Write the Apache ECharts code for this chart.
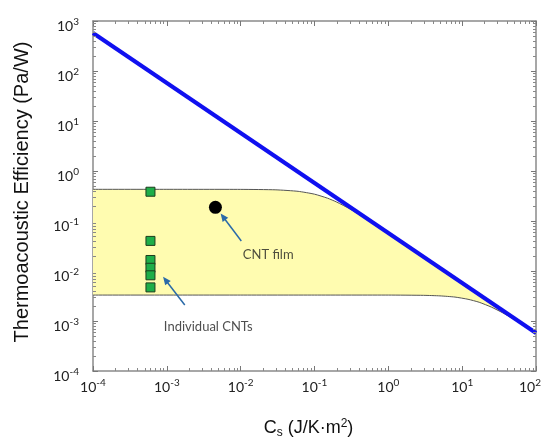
<!DOCTYPE html>
<html><head><meta charset="utf-8">
<script src="https://cdn.jsdelivr.net/npm/echarts@6/dist/echarts.min.js"></script>
<style>html,body{margin:0;padding:0;background:#fff}#c{width:544px;height:439px}</style>
</head><body><div id="c"></div>
<script>
// ---- data ----
const limitX = [1e-4, 100];
const limitY = [575, 5.75e-4];
const upperX = [1e-4, 1e-3, 1e-2, 0.03, 0.06, 0.1, 0.15, 0.2, 0.3, 0.5, 0.7, 1, 2, 5, 10, 20, 50, 100];
const upperY = [0.43, 0.43, 0.429, 0.42, 0.392, 0.344, 0.286, 0.239, 0.175, 0.111, 0.081, 0.057, 0.0287, 0.0115, 0.00575, 0.00287, 0.00115, 0.000575];
const lowerX = [1e-4, 1e-3, 1e-2, 0.1, 1, 3, 5, 8, 12, 17, 25, 35, 50, 70, 100];
const lowerY = [0.0033, 0.0033, 0.0033, 0.0033, 0.0033, 0.00326, 0.00318, 0.00301, 0.00272, 0.00237, 0.00189, 0.00147, 0.00109, 0.0008, 0.000566];
const cntX = [6e-4, 6e-4, 6e-4, 6e-4, 6e-4, 6e-4];
const cntY = [0.385, 0.040, 0.0166, 0.0116, 0.0082, 0.0047];
const filmX = [4.55e-3];
const filmY = [0.188];
const labelNames = ['CNT film', 'Individual CNTs'];
const labelX = [0.0236, 0.00364];
const labelY = [0.0215, 0.00075];
const arrowFrom = [[0.0102, 0.0398], [0.00175, 0.00209]];
const arrowTo = [[0.00577, 0.122], [9.6e-4, 0.0066]];
const xMin = 1e-4, xMax = 100, yMin = 1e-4, yMax = 1000;
const xMinorTicks = [];
for (let e = -4; e < 2; e++) for (let m = 2; m <= 9; m++) xMinorTicks.push(m * Math.pow(10, e));
const yMinorTicks = [];
for (let e = -4; e < 3; e++) for (let m = 2; m <= 9; m++) yMinorTicks.push(m * Math.pow(10, e));

const zip = (a, b) => a.map((v, i) => [v, b[i]]);
const fmt = v => { const e = Math.round(Math.log10(v)); return '{b|10}{s|' + e + '}'; };
const fmtX = v => fmt(v) + (Math.abs(v - xMax) < 1e-9 ? '{p|}' : '');
const rich = {
  b: {fontSize: 14, fontFamily: 'Lato', color: '#222'},
  s: {fontSize: 10, fontFamily: 'Lato', color: '#222', padding: [0, 0, 9, 0]},
  p: {width: 12}
};
const axisCommon = {
  type: 'log', logBase: 10,
  axisLine: {show: true, onZero: false, lineStyle: {color: '#8a8a8a', width: 1.5}},
  axisTick: {show: true, inside: true, length: 5, lineStyle: {color: '#777', width: 1}},
  minorTick: {show: false},
  splitLine: {show: false}
};

const chart = echarts.init(document.getElementById('c'), null, {renderer: 'canvas'});
chart.setOption({
  animation: false,
  backgroundColor: '#fff',
  grid: {left: 93, right: 8, top: 21, bottom: 68, containLabel: false, outerBoundsMode: 'none'},
  xAxis: [
    Object.assign({}, axisCommon, {
      min: xMin, max: xMax, interval: 1, position: 'bottom',
      axisLabel: {margin: 7, formatter: fmtX, rich: rich},
      name: 'C{sub|s} (J/K·m{sup|2})', nameLocation: 'middle', nameGap: 47,
      nameTextStyle: {fontSize: 18, fontFamily: 'Liberation Sans', color: '#111', padding: [0, 12, 0, 0],
        rich: {sub: {fontSize: 12, fontFamily: 'Liberation Sans', color: '#111', padding: [8, 0, 0, 0]},
               sup: {fontSize: 12, fontFamily: 'Liberation Sans', color: '#111', padding: [0, 0, 9, 0]}}}
    }),
    Object.assign({}, axisCommon, {
      min: xMin, max: xMax, interval: 1, position: 'top', axisLabel: {show: false}
    })
  ],
  yAxis: [
    Object.assign({}, axisCommon, {
      min: yMin, max: yMax, interval: 1, position: 'left',
      axisLabel: {margin: 14, formatter: fmt, rich: rich, padding: [10, 0, 0, 0]},
      name: 'Thermoacoustic Efficiency (Pa/W)', nameLocation: 'middle', nameGap: 61,
      nameTextStyle: {fontSize: 20, fontFamily: 'Liberation Sans', color: '#111', padding: [0, 0, 0, 8]}
    }),
    Object.assign({}, axisCommon, {
      min: yMin, max: yMax, interval: 1, position: 'right', axisLabel: {show: false}
    })
  ],
  series: [
    {
      type: 'custom', name: 'region', clip: true, z: 1, silent: true,
      data: [[upperX[0], upperY[0]]],
      renderItem: (params, api) => {
        const pts = [];
        for (let i = 0; i < upperX.length; i++) pts.push(api.coord([upperX[i], upperY[i]]));
        for (let i = lowerX.length - 1; i >= 0; i--) pts.push(api.coord([lowerX[i], lowerY[i]]));
        return {type: 'polygon', shape: {points: pts}, style: {fill: '#fffcb0', stroke: null}};
      }
    },
    {
      type: 'custom', name: 'minorTicks', clip: false, z: 6, silent: true,
      data: [[xMin, yMin]],
      renderItem: (params, api) => {
        const cs = params.coordSys;
        const top = cs.y, bottom = cs.y + cs.height, left = cs.x, right = cs.x + cs.width;
        const st = {stroke: '#888', lineWidth: 1};
        const kids = [];
        xMinorTicks.forEach(v => {
          const x = Math.round(api.coord([v, yMin])[0]) + 0.5;
          kids.push({type: 'line', shape: {x1: x, y1: bottom, x2: x, y2: bottom - 3}, style: st});
          kids.push({type: 'line', shape: {x1: x, y1: top, x2: x, y2: top + 3}, style: st});
        });
        yMinorTicks.forEach(v => {
          const y = Math.round(api.coord([xMin, v])[1]) + 0.5;
          kids.push({type: 'line', shape: {x1: left, y1: y, x2: left + 3, y2: y}, style: st});
          kids.push({type: 'line', shape: {x1: right, y1: y, x2: right - 3, y2: y}, style: st});
        });
        return {type: 'group', children: kids};
      }
    },
    {type: 'line', name: 'upper', data: zip(upperX, upperY), showSymbol: false, smooth: 0.2, z: 2,
     lineStyle: {color: '#555', width: 1}},
    {type: 'line', name: 'lower', data: zip(lowerX, lowerY), showSymbol: false, smooth: 0.2, z: 2,
     lineStyle: {color: '#555', width: 1}},
    {type: 'line', name: 'limit', data: zip(limitX, limitY), showSymbol: false, z: 3,
     lineStyle: {color: '#1010f0', width: 4}},
    {type: 'scatter', name: 'Individual CNTs', data: zip(cntX, cntY), symbol: 'rect', symbolSize: 9, z: 4,
     itemStyle: {color: '#1eae48', borderColor: '#1d3d1d', borderWidth: 1, opacity: 1}},
    {type: 'scatter', name: 'CNT film', data: zip(filmX, filmY), symbol: 'circle', symbolSize: 13, z: 4,
     itemStyle: {color: '#000', opacity: 1}},
    {type: 'scatter', name: 'labels', data: labelNames.map((n, i) => ({name: n, value: [labelX[i], labelY[i]]})),
     symbolSize: 0, z: 5, silent: true,
     label: {show: true, formatter: '{b}', fontFamily: 'Lato', fontSize: 13, color: '#222',
       position: 'inside', align: 'center'},
     markLine: {
       silent: true, symbol: ['none', 'triangle'], symbolSize: [7, 8],
       lineStyle: {color: '#2a6aa8', width: 1.5, type: 'solid'}, label: {show: false},
       data: arrowFrom.map((f, i) => [{coord: f}, {coord: arrowTo[i]}])
     }}
  ]
});
</script></body></html>
